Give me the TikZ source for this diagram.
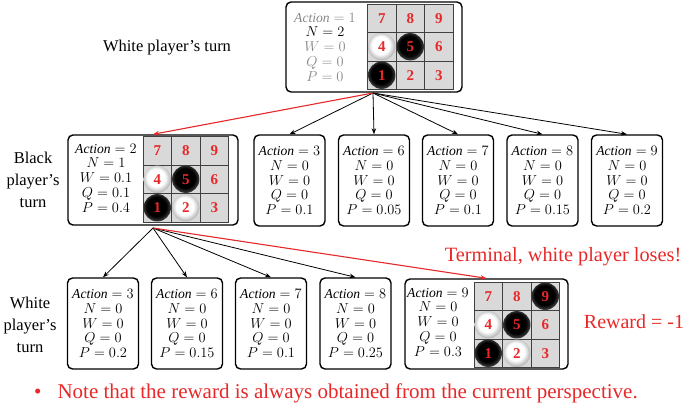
\documentclass[tikz,border=0pt]{standalone}
\usepackage{fontspec}
\setmainfont{Liberation Serif}
\usetikzlibrary{arrows.meta}

\definecolor{myred}{RGB}{232,40,40}
\definecolor{cellgray}{RGB}{217,217,217}
\definecolor{statgray}{RGB}{135,135,135}

\pgfdeclareradialshading{whiteball}{\pgfpoint{-3bp}{4bp}}{%
  color(0bp)=(white); color(16bp)=(white); color(27bp)=(black!32); color(50bp)=(black!32)}
\pgfdeclareradialshading{blackball}{\pgfpoint{-2bp}{3bp}}{%
  color(0bp)=(black); color(18bp)=(black); color(27bp)=(black!72); color(50bp)=(black!72)}

\tikzset{
  treebox/.style={draw, line width=1.4pt, rounded corners=5pt, inner sep=0pt},
  smallbox/.style={treebox, minimum width=71pt, minimum height=91pt},
  stats/.style={align=center, inner sep=0pt, font=\fontsize{13.6}{14.8}\selectfont},
  turnlabel/.style={align=center, inner sep=0pt, font=\fontsize{16.5}{22}\selectfont},
  redtext/.style={text=myred, inner sep=0pt},
  numlab/.style={text=myred, inner sep=0pt, font=\fontsize{15}{15}\selectfont\bfseries},
  stone/.style={circle, minimum size=27.4pt, inner sep=0pt},
  blackstone/.style={stone, shading=blackball},
  whitestone/.style={stone, shading=whiteball},
  edge/.style={-{Stealth[length=6pt,width=4.5pt]}, line width=0.8pt},
  redge/.style={edge, draw=myred, line width=1.1pt},
}

% #1 top-left corner, #2 black stones, #3 white stones
\newcommand{\gameboard}[3]{%
  \begin{scope}[shift={#1}]
    \fill[cellgray] (0,0) rectangle (85.5,85.5);
    \foreach \i in {0,1,2,3} {
      \draw[line width=0.8pt, black!75] (\i*28.5,0) -- (\i*28.5,85.5);
      \draw[line width=0.8pt, black!75] (0,\i*28.5) -- (85.5,\i*28.5);
    }
    \foreach \n in {#2} {
      \pgfmathsetmacro{\cx}{(mod(\n-1,3)+0.5)*28.5}
      \pgfmathsetmacro{\cy}{(2-int((\n-1)/3)+0.5)*28.5}
      \node[blackstone] at (\cx,\cy) {};
    }
    \foreach \n in {#3} {
      \pgfmathsetmacro{\cx}{(mod(\n-1,3)+0.5)*28.5}
      \pgfmathsetmacro{\cy}{(2-int((\n-1)/3)+0.5)*28.5}
      \node[whitestone] at (\cx,\cy) {};
    }
    \foreach \n in {1,...,9} {
      \pgfmathsetmacro{\cx}{(mod(\n-1,3)+0.5)*28.5}
      \pgfmathsetmacro{\cy}{(2-int((\n-1)/3)+0.5)*28.5}
      \node[numlab] at (\cx,\cy) {\n};
    }
  \end{scope}
}

\begin{document}
\begin{tikzpicture}[x=1pt, y=-1pt]
\useasboundingbox (0,0) rectangle (685,404);

% root
\node[treebox, minimum width=176pt, minimum height=90pt] (root) at (374,47) {};
\gameboard{(367.5,4)}{1,5}{4}
\node[stats, text=statgray] (rootstats) at (325,47)
  {$\mathit{Action}=1$\\ \textcolor{black}{$N=2$}\\ $W=0$\\ $Q=0$\\ $P=0$};
\node[turnlabel] (turn1) at (167,48) {White player’s turn};

% black player's turn
\node[turnlabel] (turn2) at (33,180) {Black\\ player’s\\ turn};
\node[treebox, minimum width=170pt, minimum height=90pt] (a2) at (153,180) {};
\gameboard{(143,136.5)}{1,5}{4,2}
\node[stats] (a2stats) at (106,178)
  {$\mathit{Action}=2$\\ $N=1$\\ $W=0.1$\\ $Q=0.1$\\ $P=0.4$};
\node[smallbox] (a3) at (289.5,180.5) {};
\node[stats] at (a3) {$\mathit{Action}=3$\\ $N=0$\\ $W=0$\\ $Q=0$\\ $P=0.1$};
\node[smallbox] (a6) at (374,180.5) {};
\node[stats] at (a6) {$\mathit{Action}=6$\\ $N=0$\\ $W=0$\\ $Q=0$\\ $P=0.05$};
\node[smallbox] (a7) at (458,180.5) {};
\node[stats] at (a7) {$\mathit{Action}=7$\\ $N=0$\\ $W=0$\\ $Q=0$\\ $P=0.1$};
\node[smallbox] (a8) at (542.5,180.5) {};
\node[stats] at (a8) {$\mathit{Action}=8$\\ $N=0$\\ $W=0$\\ $Q=0$\\ $P=0.15$};
\node[smallbox] (a9) at (627,180.5) {};
\node[stats] at (a9) {$\mathit{Action}=9$\\ $N=0$\\ $W=0$\\ $Q=0$\\ $P=0.2$};

% white player's turn
\node[turnlabel] (turn3) at (30,325) {White\\ player’s\\ turn};
\node[smallbox] (b3) at (103,323.5) {};
\node[stats] at (b3) {$\mathit{Action}=3$\\ $N=0$\\ $W=0$\\ $Q=0$\\ $P=0.2$};
\node[smallbox] (b6) at (187,323.5) {};
\node[stats] at (b6) {$\mathit{Action}=6$\\ $N=0$\\ $W=0$\\ $Q=0$\\ $P=0.15$};
\node[smallbox] (b7) at (271,323.5) {};
\node[stats] at (b7) {$\mathit{Action}=7$\\ $N=0$\\ $W=0$\\ $Q=0$\\ $P=0.1$};
\node[smallbox] (b8) at (355.5,323.5) {};
\node[stats] at (b8) {$\mathit{Action}=8$\\ $N=0$\\ $W=0$\\ $Q=0$\\ $P=0.25$};
\node[treebox, minimum width=163pt, minimum height=90pt] (b9) at (486.5,324) {};
\gameboard{(474,282)}{1,5,9}{4,2}
\node[stats] (b9stats) at (438,322)
  {$\mathit{Action}=9$\\ $N=0$\\ $W=0$\\ $Q=0$\\ $P=0.3$};

% connectors
\coordinate (rootout) at (373,93);
\coordinate (a2out) at (153,228);
\foreach \c in {a3,a6,a7,a8,a9}
  \draw[edge] (rootout) -- (\c.north);
\draw[redge] (rootout) -- (a2.north);
\foreach \c in {b3,b6,b7,b8}
  \draw[edge] (a2out) -- (\c.north);
\draw[redge] (a2out) -- (b9.north);

% notes
\node[redtext, font=\fontsize{20.3}{22}\selectfont] (terminal) at (563,257) {Terminal, white player loses!};
\node[redtext, font=\fontsize{20}{22}\selectfont] (reward) at (634,322) {Reward = -1};
\node[redtext, anchor=west, font=\fontsize{21}{22}\selectfont] (note) at (34,393)
  {\textbullet\hspace{16pt}Note that the reward is always obtained from the current perspective.};
\end{tikzpicture}
\end{document}
